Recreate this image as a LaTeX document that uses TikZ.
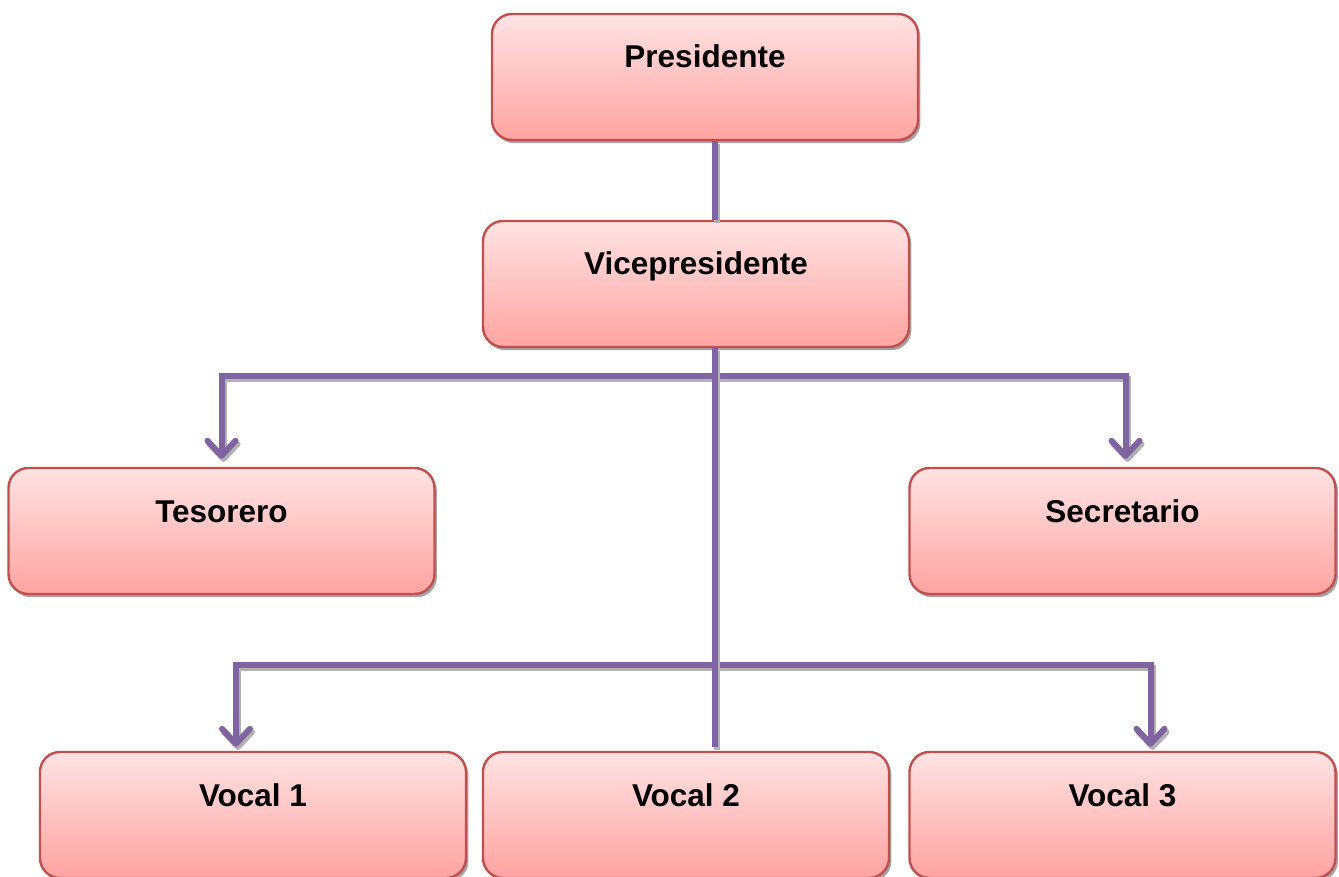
\documentclass[tikz,border=0pt]{standalone}
\usepackage{fontspec}
\setmainfont{Liberation Sans}
\usetikzlibrary{arrows.meta,positioning,shadows,calc}
\definecolor{boxTop}{HTML}{FFE3E3}
\definecolor{boxBot}{HTML}{FFA3A1}
\definecolor{boxLine}{HTML}{C0504D}
\definecolor{linkPurple}{HTML}{8064A2}

\begin{document}
\begin{tikzpicture}[x=0.5pt,y=-0.5pt,
  cargo/.style={draw=boxLine,line width=1.2pt,rounded corners=10pt,
    top color=boxTop,bottom color=boxBot,minimum width=213pt,
    inner ysep=0pt,text height=27pt,text depth=36pt,
    font=\fontsize{15.75}{19}\selectfont\bfseries,
    drop shadow={shadow xshift=1.2pt,shadow yshift=-1.6pt,fill=black!45,opacity=0.8}},
  link/.style={draw=linkPurple,line width=3pt,
    preaction={draw=black!30,line width=3pt,transform canvas={shift={(1pt,-1.6pt)}}}},
  flecha/.style={link,-{Straight Barb[length=7.5pt,width=14pt,round]},shorten >=4pt}]
  \useasboundingbox (0,0) rectangle (1339,877);
  % cargos
  \node[cargo] (pres) at (705,77) {Presidente};
  \node[cargo] (vice) at (696,284) {Vicepresidente};
  \node[cargo] (teso) at (221.5,531) {Tesorero};
  \node[cargo] (secr) at (1122.5,531) {Secretario};
  \node[cargo] (voc1) at (253,815) {Vocal 1};
  \node[cargo,minimum width=203pt] (voc2) at (686,815) {Vocal 2};
  \node[cargo] (voc3) at (1122.5,815) {Vocal 3};
  % lineas
  \coordinate (busA) at (715,376);
  \coordinate (busB) at (715,665);
  \draw[link] (pres.south -| busA) -- (vice.north -| busA);
  \draw[flecha] (busA) -| (teso.north);
  \draw[flecha] (busA) -| ([xshift=1.5pt]secr.north);
  \draw[flecha,shorten >=2pt] (busB) -| ([xshift=-8.5pt]voc1.north);
  \draw[flecha,shorten >=2pt] (busB) -| ([xshift=14pt]voc3.north);
  \draw[link,shorten >=2pt] (vice.south -| busA) -- (voc2.north -| busA);
\end{tikzpicture}
\end{document}
